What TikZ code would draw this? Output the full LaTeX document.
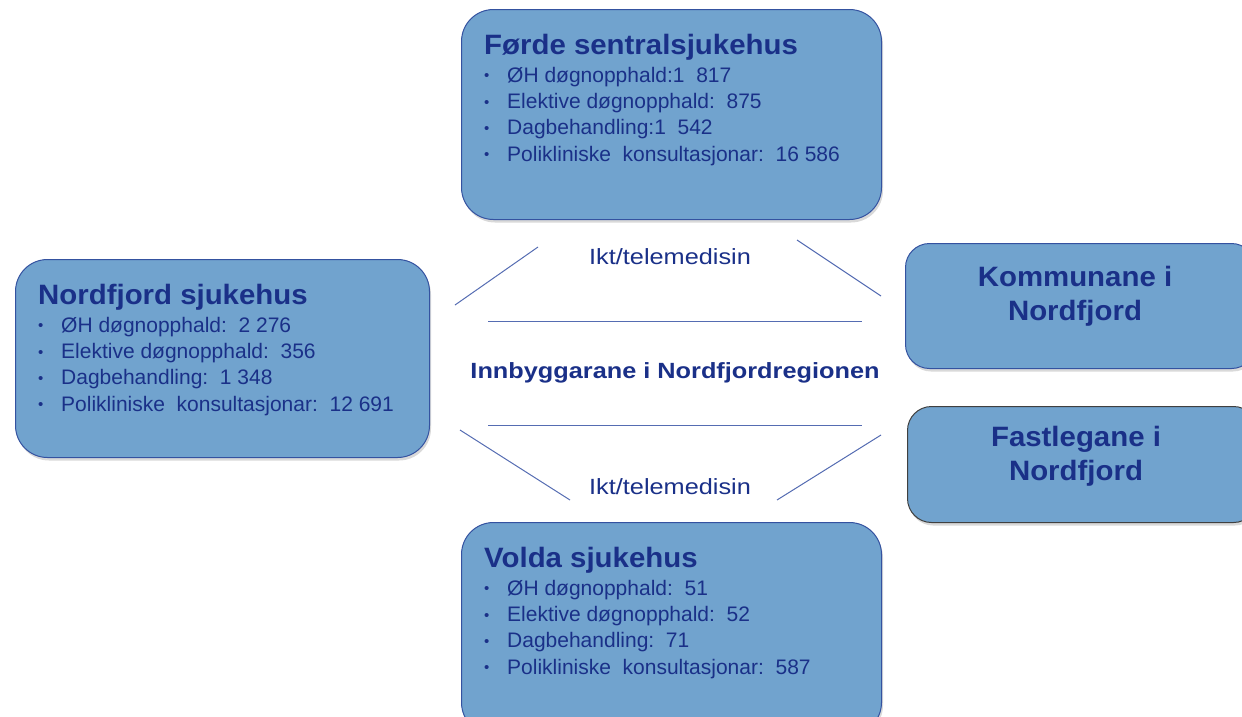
\documentclass[tikz,border=0pt]{standalone}
\usepackage{fontspec}
\setmainfont{Liberation Sans}
\newfontfamily\bredfont[FakeStretch=1.15]{Liberation Sans}
\newfontfamily\tittelfont[FakeStretch=1.05]{Liberation Sans}
\usetikzlibrary{shadows}

\definecolor{boksblaa}{RGB}{113,163,206}
\definecolor{tekstblaa}{RGB}{26,48,136}
\definecolor{kantblaa}{RGB}{52,82,160}
\definecolor{linjeblaa}{RGB}{85,108,178}

\newcommand{\punkt}[1]{\makebox[23pt][l]{\raisebox{1.5pt}{\fontsize{15}{15}\selectfont\textbullet}}#1}
\newcommand{\tittel}[1]{{\tittelfont\fontsize{28}{30}\selectfont\bfseries #1}}

\begin{document}
\begin{tikzpicture}[x=1pt, y=-1pt,
    boks/.style={draw=kantblaa, line width=1pt, fill=boksblaa, anchor=north west,
        inner sep=0pt, rounded corners=32pt,
        drop shadow={opacity=0.3, shadow xshift=1.5pt, shadow yshift=-3pt}},
    liste/.style={anchor=north west, align=left, inner sep=0pt, text=tekstblaa,
        font=\fontsize{21}{26.3}\selectfont},
    aktor/.style={align=center, inner sep=0pt, text=tekstblaa,
        font=\tittelfont\fontsize{28}{34}\selectfont\bfseries},
    midt/.style={inner sep=0pt, text=tekstblaa, font=\bredfont\fontsize{22}{24}\selectfont},
    linje/.style={draw=linjeblaa, line width=1pt}]
        \useasboundingbox (0,0) rectangle (1242,716);
        \clip (0,0) rectangle (1242,716);

        % sjukehusa
        \node[boks, minimum width=420pt, minimum height=210pt] (forde) at (461,9) {};
        \node[boks, minimum width=414pt, minimum height=198pt] (nordfjord) at (15,259) {};
        \node[boks, minimum width=420pt, minimum height=212pt] (volda) at (461,522) {};

        % kommunar og fastlegar
        \node[boks, rounded corners=24pt, minimum width=350pt, minimum height=125pt] (kommune) at (905,243) {};
        \node[boks, draw=black!75, rounded corners=24pt, minimum width=350pt, minimum height=116pt] (fastlege) at (907,406) {};

        \node[liste] (forde-tekst) at (484,34) {\tittel{Førde sentralsjukehus}\\[1.5pt]
            \punkt{ØH døgnopphald:1\ \ 817}\\
            \punkt{Elektive døgnopphald:\ \ 875}\\
            \punkt{Dagbehandling:1\ \ 542}\\
            \punkt{Polikliniske\ \ konsultasjonar:\ \ 16 586}};
        \node[liste] (nordfjord-tekst) at (38,284) {\tittel{Nordfjord sjukehus}\\[1.5pt]
            \punkt{ØH døgnopphald:\ \ 2 276}\\
            \punkt{Elektive døgnopphald:\ \ 356}\\
            \punkt{Dagbehandling:\ \ 1 348}\\
            \punkt{Polikliniske\ \ konsultasjonar:\ \ 12 691}};
        \node[liste] (volda-tekst) at (484,547) {\tittel{Volda sjukehus}\\[1.5pt]
            \punkt{ØH døgnopphald:\ \ 51}\\
            \punkt{Elektive døgnopphald:\ \ 52}\\
            \punkt{Dagbehandling:\ \ 71}\\
            \punkt{Polikliniske\ \ konsultasjonar:\ \ 587}};

        \node[aktor] (kommune-tekst) at (1075,296) {Kommunane i\\Nordfjord};
        \node[aktor] (fastlege-tekst) at (1076,456) {Fastlegane i\\Nordfjord};

        % innbyggarane i midten
        \node[midt, font=\bredfont\fontsize{22}{24}\selectfont\bfseries] (innbyggar) at (675,373) {Innbyggarane i Nordfjordregionen};
        \node[midt] (ikt-oppe) at (670,257) {Ikt/telemedisin};
        \node[midt] (ikt-nede) at (670,487) {Ikt/telemedisin};

        \coordinate (a1) at (455,305);
        \coordinate (a2) at (538,247);
        \coordinate (b1) at (797,240);
        \coordinate (b2) at (881,296);
        \coordinate (c1) at (488,321);
        \coordinate (c2) at (862,321);
        \coordinate (d1) at (488,425);
        \coordinate (d2) at (862,425);
        \coordinate (e1) at (460,430);
        \coordinate (e2) at (570,500);
        \coordinate (f1) at (777,500);
        \coordinate (f2) at (881,435);

        \draw[linje] (a1) -- (a2);
        \draw[linje] (b1) -- (b2);
        \draw[linje] (c1) -- (c2);
        \draw[linje] (d1) -- (d2);
        \draw[linje] (e1) -- (e2);
        \draw[linje] (f1) -- (f2);
\end{tikzpicture}
\end{document}
